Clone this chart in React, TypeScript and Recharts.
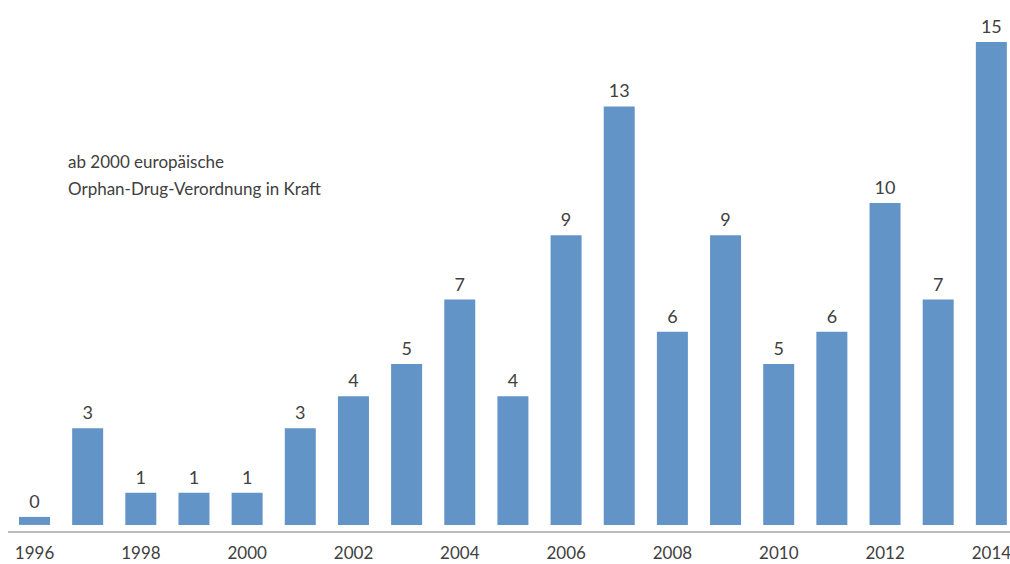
import { BarChart, Bar, XAxis, YAxis, LabelList } from 'recharts'

const years = ['1996', '1997', '1998', '1999', '2000', '2001', '2002', '2003', '2004', '2005',
  '2006', '2007', '2008', '2009', '2010', '2011', '2012', '2013', '2014']
const approvals = [0, 3, 1, 1, 1, 3, 4, 5, 7, 4, 9, 13, 6, 9, 5, 6, 10, 7, 15]
const noteLines = ['ab 2000 europäische', 'Orphan-Drug-Verordnung in Kraft']

const chartData = years.map((year, i) => ({ year, value: approvals[i] }))

const font = 'Lato, sans-serif'
const textColor = '#404040'

export default function App() {
  return (
    <div style={{ position: 'absolute', left: 0, top: 0, width: 1010, height: 564, overflow: 'hidden', background: '#fff' }}>
      <BarChart
        width={1018}
        height={564}
        data={chartData}
        margin={{ top: 42, right: 0, bottom: 2, left: 8 }}
      >
        <YAxis hide domain={[-0.22, 15]} />
        <XAxis
          dataKey="year"
          interval={1}
          tickLine={false}
          axisLine={{ stroke: '#a6a6a6', strokeWidth: 1.5 }}
          tick={{ fill: textColor, fontSize: 17, fontFamily: font }}
          tickMargin={9}
        />
        <Bar dataKey="value" fill="#6394c8" barSize={31} minPointSize={8} isAnimationActive={false}>
          <LabelList dataKey="value" position="top" offset={9} fill={textColor} fontSize={18} fontFamily={font} />
        </Bar>
      </BarChart>
      <div style={{ position: 'absolute', left: 68, top: 148, fontFamily: font, fontSize: 17, lineHeight: '27px', color: textColor }}>
        {noteLines.map((line) => (
          <div key={line}>{line}</div>
        ))}
      </div>
    </div>
  )
}
